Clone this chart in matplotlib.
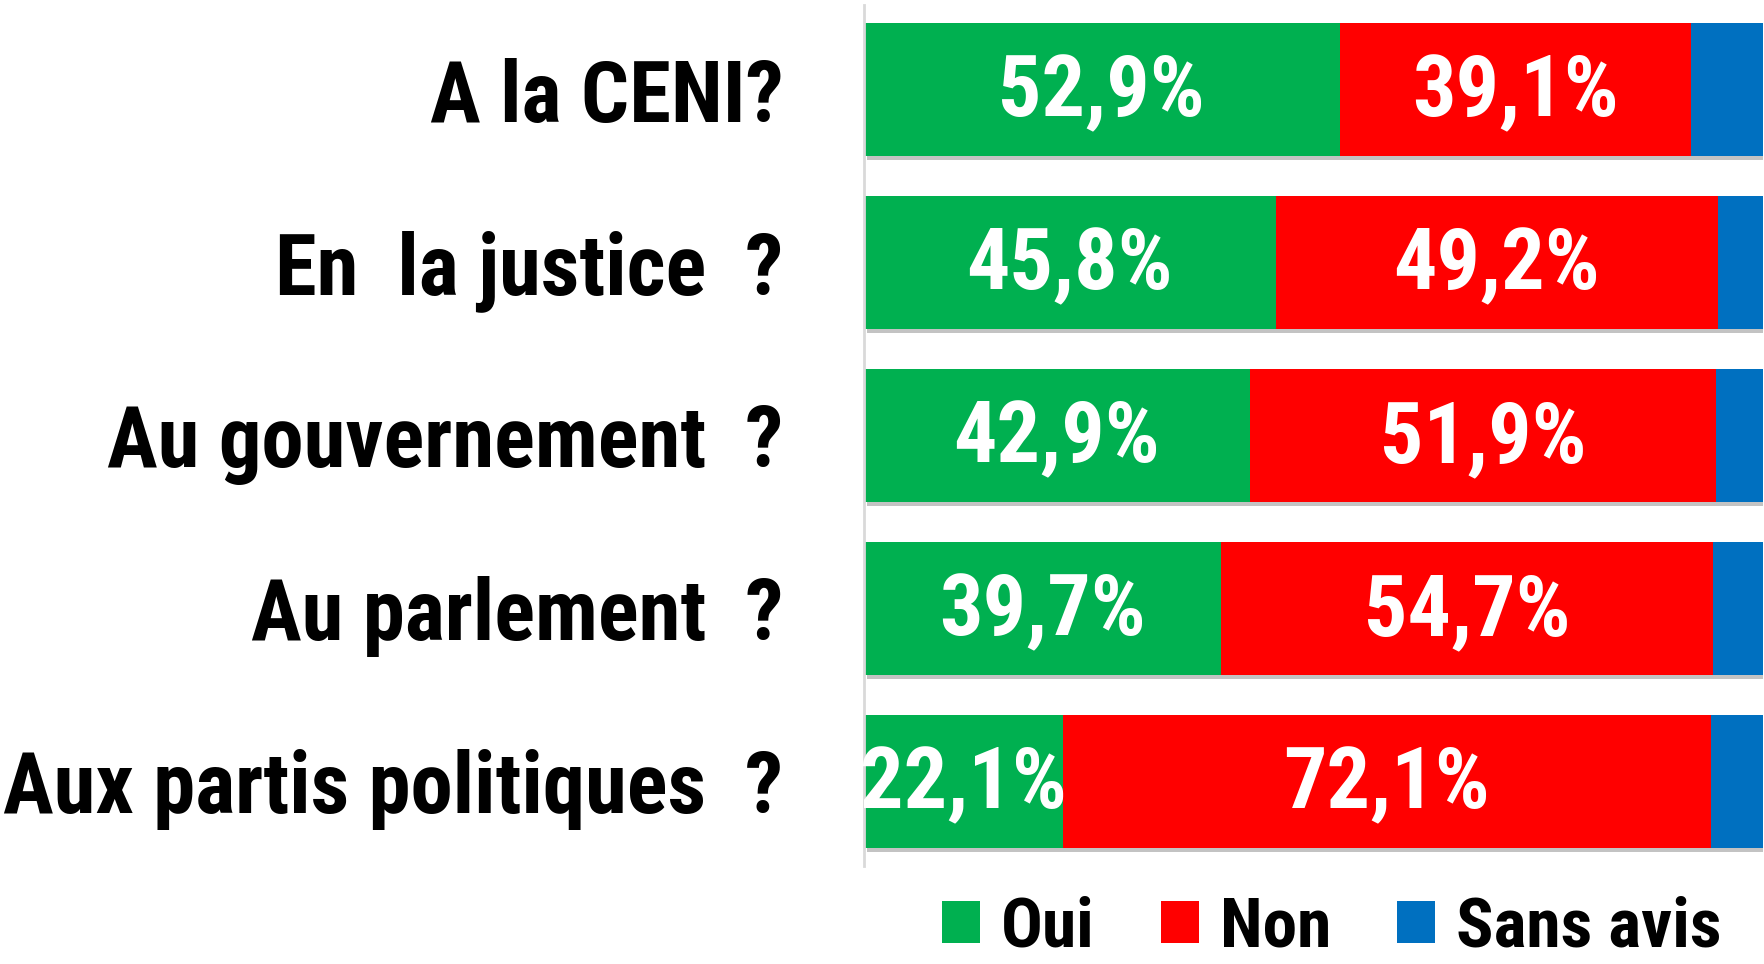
import matplotlib
matplotlib.use("Agg")
import matplotlib.pyplot as plt
import matplotlib.patheffects as pe
from matplotlib.patches import Patch
from matplotlib import font_manager

categories = ["A la CENI?", "En  la justice  ?", "Au gouvernement  ?", "Au parlement  ?", "Aux partis politiques  ?"]
oui = [52.9, 45.8, 42.9, 39.7, 22.1]
non = [39.1, 49.2, 51.9, 54.7, 72.1]
sans_avis = [8.0, 5.0, 5.2, 5.6, 5.8]
series_names = ["Oui", "Non", "Sans avis"]
colors = ["#00B050", "#FF0000", "#0070C0"]

bold_names = {f.name for f in font_manager.fontManager.ttflist
              if isinstance(f.weight, int) and f.weight >= 700}
candidates = ["Liberation Sans Narrow", "Arial Narrow", "Archivo Narrow", "Roboto Condensed",
              "PT Sans Narrow", "IBM Plex Sans Condensed", "Asap Condensed", "Sofia Sans Condensed",
              "Saira SemiCondensed"]
chosen = next((c for c in candidates if c in bold_names), "DejaVu Sans")
plt.rcParams["font.family"] = [chosen, "DejaVu Sans"]

fig = plt.figure(figsize=(17.64, 9.64), dpi=100)
ax = fig.add_axes([864 / 1764, 1 - 866 / 964, 1 - 864 / 1764 - 0.0005, (866 - 5) / 964])

y = list(range(len(categories)))
shadow = [pe.SimplePatchShadow(offset=(2, -3), alpha=0.35, shadow_rgbFace="#555555"), pe.Normal()]
left = [0.0] * len(categories)
for vals, col, name in zip([oui, non, sans_avis], colors, series_names):
    bars = ax.barh(y, vals, left=left, height=0.77, color=col, label=name, zorder=2)
    for b in bars:
        b.set_path_effects(shadow)
    if name != "Sans avis":
        for yi, v, l in zip(y, vals, left):
            ax.text(l + v / 2, yi + 0.02, f"{v:.1f}%".replace(".", ","), ha="center", va="center",
                    color="white", fontsize=62, fontweight="bold", zorder=3)
    left = [a + b for a, b in zip(left, vals)]

ax.set_xlim(0, 100)
ax.set_ylim(len(categories) - 0.51, -0.49)
ax.set_yticks(y)
ax.set_yticklabels(categories, fontsize=61, fontweight="bold")
ax.tick_params(axis="y", length=0, pad=58)
ax.set_xticks([])
for s in ["top", "right", "bottom"]:
    ax.spines[s].set_visible(False)
ax.spines["left"].set_color("#d9d9d9")
ax.spines["left"].set_linewidth(2)

handles = [Patch(facecolor=c, edgecolor="none") for c in colors]
fig.legend(handles, series_names, loc="center", bbox_to_anchor=(0.755, 0.037), ncol=3,
           frameon=False, prop={"size": 50, "weight": "bold"},
           handlelength=0.55, handleheight=0.55, handletextpad=0.3, columnspacing=0.95,
           borderpad=0, borderaxespad=0)

fig.savefig("out.png", dpi=100)
